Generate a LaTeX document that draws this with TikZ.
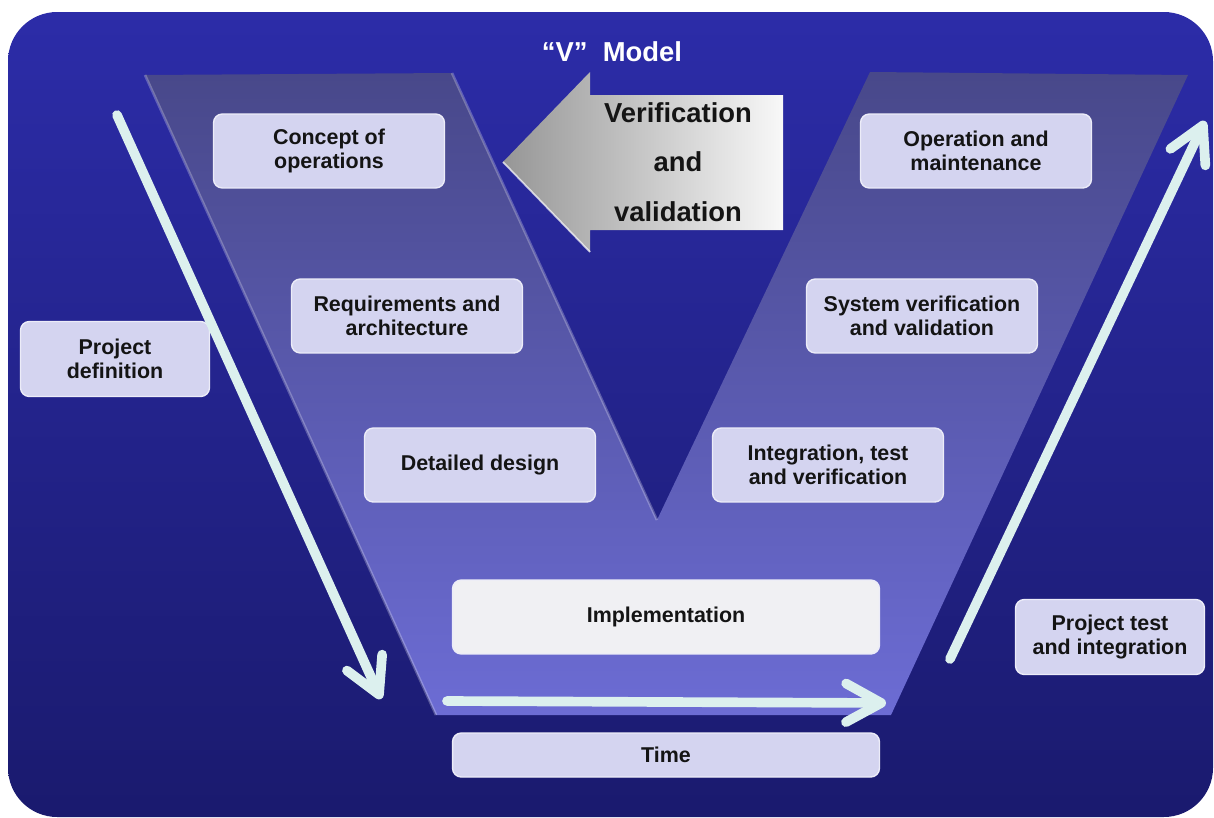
\documentclass[tikz,border=0pt]{standalone}
\usepackage{fontspec}
\setmainfont{Liberation Sans}
\usepackage{xcolor}
\usepackage{tikz}
\usetikzlibrary{positioning,arrows.meta}
\definecolor{vbgtop}{RGB}{44,44,168}
\definecolor{vbgbottom}{RGB}{26,26,110}
\definecolor{vfilltop}{RGB}{72,72,138}
\definecolor{vfillbottom}{RGB}{108,108,212}
\definecolor{vboxfill}{RGB}{212,212,240}
\definecolor{vimplfill}{RGB}{240,240,243}
\definecolor{vflowcol}{RGB}{220,240,238}
\definecolor{vtextcol}{RGB}{20,20,20}
\definecolor{vvdark}{RGB}{150,150,150}
\definecolor{vvlight}{RGB}{248,248,248}
\newcommand{\vphasefont}{\fontsize{12.2}{13.8}\selectfont\bfseries}
\newcommand{\vbigfont}{\fontsize{15.6}{28.3}\selectfont\bfseries}
\tikzset{
    vphase/.style={draw=white!55!vboxfill, line width=0.8pt, rounded corners=5pt, fill=vboxfill, align=center, text=vtextcol, font=\vphasefont, minimum width=4.62cm, minimum height=1.48cm, inner sep=2pt},
    vproject/.style={vphase, minimum width=3.78cm, minimum height=1.5cm},
    vimpl/.style={vphase, fill=vimplfill, minimum width=8.54cm},
    vtime/.style={vphase, minimum width=8.54cm, minimum height=0.88cm},
    vflow/.style={draw=vflowcol, line width=5.5pt, line cap=round, -{Straight Barb[length=20pt, width=22pt, round]}},
    vedge/.style={draw=white, opacity=0.25, line width=1.5pt},
    vtitle/.style={text=white, font=\vbigfont},
    vcheck/.style={text=vtextcol, font=\vbigfont, align=center}
}
\begin{document}
\begin{tikzpicture}[x=0.02cm, y=-0.02cm]
    \useasboundingbox (0,0) rectangle (1214,818);
    % background and V
    \shade[top color=vbgtop, bottom color=vbgbottom, rounded corners=28pt] (8,12) rectangle (1213,817);
    \shade[top color=vfilltop, bottom color=vfillbottom] (145,75) -- (452,73) -- (657,520) -- (870,72) -- (1188,75) -- (891,715) -- (436,715) -- cycle;
    \draw[vedge] (145,75) -- (436,715);
    \draw[vedge] (452,73) -- (657,520);

    % verification and validation arrow
    \shade[left color=vvdark, right color=vvlight] (503,162) -- (590,72) -- (590,95) -- (783,95) -- (783,230) -- (590,230) -- (590,252) -- cycle;
    \draw[white, line width=1pt, opacity=0.7] (503,162) -- (590,252);
    \node[vcheck] (vv) at (678,162) {Verification\\and\\validation};
    \node[vtitle] (title) at (612,52) {“V”\ \ Model};

    % phases
    \node[vphase] (conops) at (329,151) {Concept of\\operations};
    \node[vphase] (reqs) at (407,316) {Requirements and\\architecture};
    \node[vphase] (design) at (480,465) {Detailed design};
    \node[vimpl] (impl) at (666,617) {Implementation};
    \node[vphase] (integ) at (828,465) {Integration, test\\and verification};
    \node[vphase] (sysvv) at (922,316) {System verification\\and validation};
    \node[vphase] (opmaint) at (976,151) {Operation and\\maintenance};
    \node[vtime] (time) at (666,755) {Time};
    \node[vproject] (projdef) at (115,359) {Project\\definition};
    \node[vproject] (projtest) at (1110,637) {Project test\\and integration};

    % flow arrows
    \coordinate (defstart) at (117,115);
    \coordinate (defend) at (381,699);
    \coordinate (timestart) at (447,701);
    \coordinate (timeend) at (886,703);
    \coordinate (teststart) at (950,659);
    \coordinate (testend) at (1205,121);
    \draw[vflow] (defstart) -- (defend);
    \draw[vflow] (timestart) -- (timeend);
    \draw[vflow] (teststart) -- (testend);
\end{tikzpicture}
\end{document}
